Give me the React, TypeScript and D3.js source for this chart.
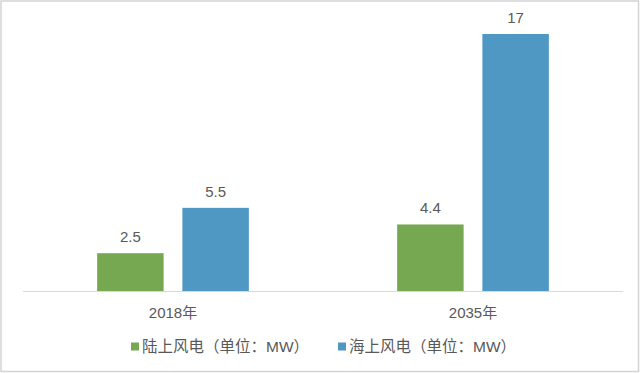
import React from "react";
import * as d3 from "d3";

const categories = ["2018年", "2035年"];
const seriesNames = ["陆上风电（单位：MW）", "海上风电（单位：MW）"];
const onshore = [2.5, 4.4];
const offshore = [5.5, 17];
const colors = ["#76A852", "#4F98C3"];

const W = 640;
const H = 373;

export default function App() {
  const x0 = d3.scaleBand<string>().domain(categories).range([23, 623]).paddingInner(0).paddingOuter(0);
  const x1 = d3.scaleBand<string>().domain(seriesNames).range([0, x0.bandwidth()]).paddingInner(0.22).paddingOuter(0.87);
  const y = d3.scaleLinear().domain([0, 17]).range([291, 34]);
  const values = [onshore, offshore];
  const fmt = (v: number) => String(v);

  return (
    <svg width={W} height={H} style={{ position: "absolute", left: 0, top: 0, background: "#fff" }}
      fontFamily="'Liberation Sans', 'Noto Sans CJK SC', sans-serif">
      <rect x={1} y={1} width={W - 2.5} height={H - 2.5} fill="#fff" stroke="#d4d4d4" strokeWidth={1.5} />
      <line x1={23} x2={623} y1={y(0) + 0.5} y2={y(0) + 0.5} stroke="#d9d9d9" strokeWidth={1} />
      {categories.map((c, ci) => (
        <g key={c}>
          {seriesNames.map((s, si) => {
            const v = values[si][ci];
            const bx = (x0(c) ?? 0) + (x1(s) ?? 0);
            return (
              <g key={s}>
                <rect x={bx} y={y(v)} width={x1.bandwidth()} height={y(0) - y(v)} fill={colors[si]} />
                <text x={bx + x1.bandwidth() / 2} y={y(v) - 11} textAnchor="middle" fontSize={15} fill="#595959">{fmt(v)}</text>
              </g>
            );
          })}
          <text x={(x0(c) ?? 0) + x0.bandwidth() / 2} y={318} textAnchor="middle" fontSize={15} fill="#595959">{c}</text>
        </g>
      ))}
      {seriesNames.map((s, si) => {
        const lx = si === 0 ? 131 : 338;
        return (
          <g key={s}>
            <rect x={lx} y={342.5} width={8} height={8} fill={colors[si]} />
            <text x={lx + 11} y={352} fontSize={15.5} fill="#595959">{s}</text>
          </g>
        );
      })}
    </svg>
  );
}
